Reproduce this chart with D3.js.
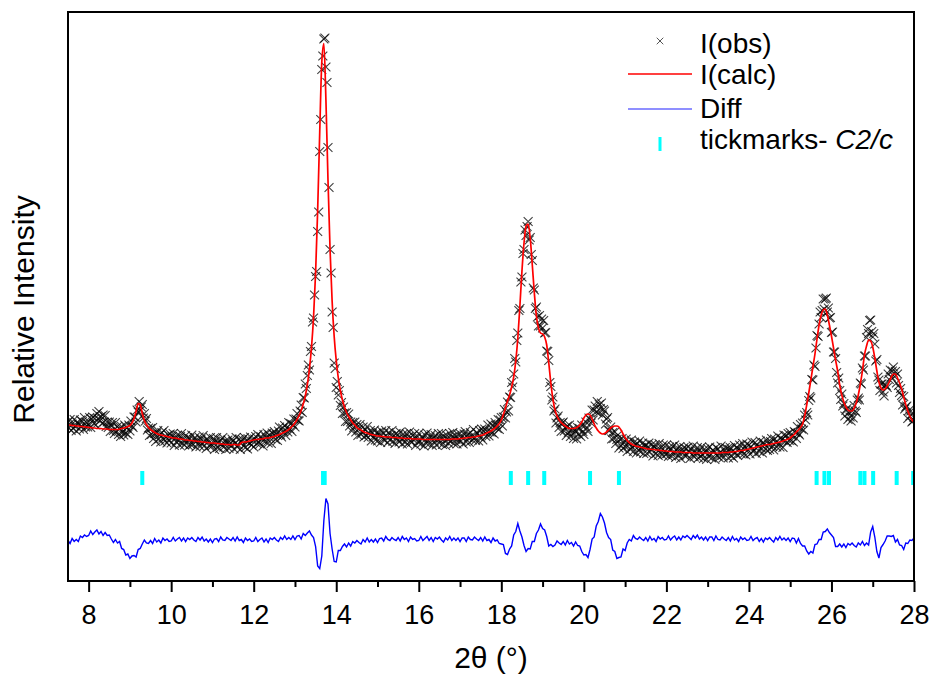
<!DOCTYPE html>
<html>
<head>
<meta charset="utf-8">
<script src="https://cdn.jsdelivr.net/npm/d3@7"></script>
<style>
  body { margin: 0; background: #fff; }
  text { font-family: Arial, "Liberation Sans", sans-serif; fill: #000; }
</style>
</head>
<body>
<svg id="chart" width="932" height="677"></svg>
<script>
"use strict";

// x range of the pattern (2theta, degrees)
const thetaMin = 7.5, thetaMax = 28;
const countsMin = 0, countsMax = 1138;

// observed intensities, one every 0.025 deg from 7.5
const obsStart = 7.5, obsStep = 0.025;
const obsCounts = [
  318,306,323,301,314,305,323,310,300,318,314,304,322,310,319,303,327,308,317,308,
  313,327,307,324,328,315,325,312,335,325,339,321,329,315,332,318,331,309,318,307,
  318,299,311,317,301,295,317,300,309,293,304,289,309,298,292,312,296,306,293,312,
  300,320,310,307,328,328,318,342,338,359,341,348,353,326,335,320,325,302,306,291,
  305,293,307,285,295,279,296,301,284,293,278,297,286,301,280,288,276,292,282,294,
  276,289,295,271,286,278,292,281,272,289,295,275,283,272,291,278,287,270,285,273,
  292,273,283,287,268,280,275,288,269,284,276,291,270,281,265,284,279,270,287,273,
  271,285,263,280,287,267,277,265,282,274,287,268,279,263,277,282,265,275,270,284,
  280,264,275,287,268,272,284,263,279,283,270,287,267,279,264,284,276,288,272,280,
  268,284,289,275,293,278,274,289,283,270,293,279,287,296,276,292,285,275,296,294,
  299,283,293,281,300,308,292,288,306,298,311,291,306,298,317,304,315,299,313,324,
  308,324,335,321,320,340,352,337,367,366,394,385,411,432,422,459,469,518,526,572,
  609,619,699,738,859,923,1023,1050,1084,1086,1028,997,867,787,663,616,538,507,436,425,
  387,399,372,381,351,357,335,348,336,319,337,319,334,310,318,300,317,307,318,298,
  313,291,305,313,293,297,308,288,302,291,309,287,295,301,280,296,288,302,282,296,
  280,297,292,277,300,285,295,281,301,288,277,297,282,291,301,279,291,275,295,284,
  292,278,298,283,274,294,286,278,295,274,289,298,280,277,291,282,295,271,287,278,
  295,280,274,289,285,270,292,276,296,282,274,288,293,271,286,278,291,272,284,295,
  276,286,295,273,289,280,271,292,284,275,295,279,288,297,275,291,283,274,293,281,
  295,280,288,274,294,299,278,292,286,277,297,290,282,303,286,281,297,295,280,301,
  287,304,282,299,304,289,299,312,290,298,314,297,310,294,317,312,305,323,303,322,
  327,310,328,343,326,338,358,340,368,367,397,388,414,445,438,481,496,541,545,598,
  608,655,663,702,691,709,719,682,687,653,641,586,582,545,548,528,510,531,510,524,
  506,521,496,497,460,459,441,397,389,362,368,340,344,316,326,330,307,317,299,316,
  318,300,306,291,310,297,312,289,302,296,285,304,299,284,307,293,305,289,312,299,
  293,311,318,305,299,326,323,316,342,322,342,350,338,359,336,353,345,356,332,343,
  340,314,324,327,301,301,308,284,297,285,298,275,283,292,266,283,271,285,265,277,
  269,284,259,278,273,263,282,268,259,278,273,256,275,262,280,258,267,276,255,270,
  272,255,268,276,258,263,273,250,268,273,255,264,251,275,258,267,252,272,259,253,
  272,255,249,268,262,250,269,256,272,247,264,259,251,269,245,262,256,267,250,265,
  252,268,259,245,264,253,270,248,260,255,267,246,261,249,268,253,245,264,257,243,
  265,249,268,254,246,262,259,243,267,251,264,247,257,270,251,246,261,267,255,265,
  246,263,267,250,260,246,271,256,267,251,264,272,255,261,275,254,269,252,274,262,
  272,254,268,278,259,262,277,255,272,269,259,280,266,256,277,274,264,282,261,274,
  263,279,285,269,262,284,278,268,290,275,268,286,283,267,292,281,291,277,295,281,
  297,281,290,278,299,297,285,309,295,292,313,304,316,302,332,322,337,332,361,369,
  366,403,402,432,429,466,491,489,514,538,527,541,564,544,564,566,538,546,526,527,
  497,498,458,458,445,417,396,406,381,363,374,350,355,330,341,345,323,337,328,320,
  340,326,351,340,337,362,366,362,396,394,426,422,450,450,487,503,495,521,522,499,
  488,495,474,440,443,408,402,381,394,394,378,370,392,391,387,414,403,422,408,420,
  428,409,419,396,414,391,377,385,371,352,369,344,348,350,325,341,330,340,318,320,
  327
];

// calculated profile and difference curve, one every 0.05 deg from 7.5
const calcStart = 7.5, calcStep = 0.05;
const calcCounts = [
  312,312,311,311,310,310,309,309,308,308,
  307,307,306,306,305,305,305,304,304,304,
  303,303,303,303,303,304,305,306,307,309,
  311,316,325,339,355,353,335,321,313,307,
  303,300,297,295,293,292,291,290,289,288,
  287,286,286,285,284,284,283,282,282,281,
  281,280,280,279,279,278,278,277,277,276,
  276,276,275,275,274,274,273,273,273,272,
  273,273,272,272,277,278,278,279,280,281,
  282,283,283,284,284,285,286,286,287,288,
  289,291,292,294,296,298,300,303,307,311,
  316,323,331,341,354,370,393,424,467,528,
  617,742,899,1038,1075,962,802,663,560,489,
  441,406,381,362,348,337,329,322,316,312,
  307,304,302,299,297,296,294,293,292,291,
  290,290,289,289,288,288,288,287,287,287,
  286,286,286,285,285,285,285,284,284,284,
  284,284,283,283,283,283,283,283,283,283,
  283,283,283,283,283,283,284,284,284,284,
  285,285,286,286,287,287,288,288,289,290,
  291,292,294,296,298,300,303,306,310,315,
  322,333,346,360,372,388,408,440,486,550,
  620,676,710,714,686,633,576,530,506,496,
  494,488,472,436,396,364,342,330,322,317,
  313,310,307,305,305,305,306,308,312,318,
  326,332,334,332,324,314,306,300,296,294,
  295,298,302,306,309,310,310,308,302,294,
  287,281,277,274,272,270,269,268,267,266,
  265,264,264,263,263,262,262,261,261,260,
  260,259,259,259,258,258,258,258,257,257,
  257,257,257,256,256,256,256,256,256,256,
  256,256,256,256,256,256,256,257,257,257,
  257,258,258,259,259,260,261,261,262,263,
  264,265,266,267,268,269,270,271,272,273,
  273,274,275,276,277,278,279,281,282,284,
  286,290,293,298,302,307,314,330,352,376,
  402,428,454,484,512,532,542,544,532,512,
  490,466,442,420,392,372,358,348,342,340,
  340,346,356,372,394,420,452,470,482,480,
  468,446,420,398,386,382,384,390,398,408,
  414,414,406,396,384,368,353,340,330,322,
  318
];

const diffCounts = [
  81,75,85,79,83,79,90,87,92,89,
  91,100,93,98,102,94,99,91,97,91,
  92,84,77,83,76,79,65,63,52,54,
  45,50,51,48,63,65,74,82,76,75,
  81,75,85,78,82,76,86,81,84,79,
  80,87,80,84,87,80,86,79,86,83,
  87,82,79,87,82,88,80,84,78,84,
  77,84,85,79,88,82,81,87,84,81,
  87,80,88,81,83,77,86,81,84,79,
  80,87,79,83,86,78,84,77,86,83,
  87,82,79,87,83,90,83,87,83,90,
  83,90,91,84,95,91,96,100,92,87,
  69,30,25,50,121,165,154,95,64,39,
  38,61,61,69,74,68,76,70,79,76,
  81,77,74,83,78,86,78,83,78,84,
  77,85,86,80,89,83,81,87,83,81,
  87,80,89,83,86,79,88,83,85,80,
  81,89,81,85,89,81,87,79,87,84,
  88,82,78,86,82,89,81,86,81,86,
  79,86,86,79,88,83,82,88,84,81,
  87,80,88,81,83,77,86,80,82,75,
  74,73,55,53,64,70,92,99,115,100,
  88,71,59,65,64,79,79,95,102,114,
  105,102,89,70,73,69,72,80,76,73,
  79,72,81,74,77,70,78,71,70,59,
  52,53,47,63,84,88,110,119,135,128,
  116,97,87,83,62,59,45,47,48,64,
  61,76,83,80,91,85,83,88,84,81,
  87,80,89,82,85,79,89,84,87,82,
  83,90,82,87,90,82,88,82,90,87,
  91,87,83,91,86,92,84,88,82,88,
  81,88,88,81,90,83,82,88,84,81,
  87,80,89,82,85,79,88,83,86,81,
  82,89,81,85,87,79,85,78,86,83,
  87,82,78,87,82,89,82,86,81,86,
  79,86,85,76,85,75,70,70,60,54,
  59,56,73,74,83,83,98,99,104,97,
  92,87,69,69,74,68,74,67,75,72,
  76,71,68,76,72,79,71,76,72,98,
  109,88,59,46,67,73,80,90,90,89,
  91,78,83,72,71,63,76,75,82,81,
  86
];

// Bragg reflection positions for C2/c
const reflections = [9.30, 13.68, 13.72, 18.23, 18.65, 19.04, 20.15, 20.85,
  25.64, 25.83, 25.94, 26.70, 26.80, 27.01, 27.58, 27.98];
// vertical span of the reflection ticks, in counts
const reflTop = 220, reflBottom = 192;

const xMajorTicks = [8, 10, 12, 14, 16, 18, 20, 22, 24, 26, 28];
const xMinorTicks = [9, 11, 13, 15, 17, 19, 21, 23, 25, 27];

const legendLabels = ["I(obs)", "I(calc)", "Diff", "tickmarks- "];
const spaceGroup = "C2/c";

// ---- layout ----
const width = 932, height = 677;
const margin = { left: 68, right: 18, top: 12, bottom: 96 };
const plotW = width - margin.left - margin.right;
const plotH = height - margin.top - margin.bottom;

const svg = d3.select("#chart");

const x = d3.scaleLinear().domain([thetaMin, thetaMax]).range([margin.left, margin.left + plotW]);
const y = d3.scaleLinear().domain([countsMin, countsMax]).range([margin.top + plotH, margin.top]);

const obsData = obsCounts.map((c, i) => ({ t: obsStart + i * obsStep, c: c }));
const calcData = calcCounts.map((c, i) => ({ t: calcStart + i * calcStep, c: c }));
const diffData = diffCounts.map((c, i) => ({ t: calcStart + i * calcStep, c: c }));

svg.append("defs").append("clipPath").attr("id", "plot-clip")
  .append("rect")
  .attr("x", margin.left).attr("y", margin.top)
  .attr("width", plotW).attr("height", plotH);

const plot = svg.append("g").attr("clip-path", "url(#plot-clip)");

// difference curve
plot.append("path")
  .datum(diffData)
  .attr("fill", "none")
  .attr("stroke", "#0000ff")
  .attr("stroke-width", 1.4)
  .attr("d", d3.line().x(d => x(d.t)).y(d => y(d.c)));

// reflection ticks
plot.selectAll("rect.refl")
  .data(reflections)
  .enter().append("rect")
  .attr("class", "refl")
  .attr("x", d => x(d) - 2)
  .attr("y", y(reflTop))
  .attr("width", 4)
  .attr("height", y(reflBottom) - y(reflTop))
  .attr("fill", "#00ffff");

// observed points as x markers
const timesSymbol = d3.symbolTimes || d3.symbolCross;
const marker = d3.symbol().type(timesSymbol).size(54);
plot.selectAll("path.obs")
  .data(obsData)
  .enter().append("path")
  .attr("class", "obs")
  .attr("transform", d => "translate(" + x(d.t) + "," + y(d.c) + ")")
  .attr("d", marker)
  .attr("fill", "none")
  .attr("stroke", "#000")
  .attr("stroke-opacity", 0.75)
  .attr("stroke-width", 1.1);

// calculated profile
plot.append("path")
  .datum(calcData)
  .attr("fill", "none")
  .attr("stroke", "#ff0000")
  .attr("stroke-width", 1.7)
  .attr("d", d3.line().curve(d3.curveMonotoneX).x(d => x(d.t)).y(d => y(d.c)));

// frame
svg.append("rect")
  .attr("x", margin.left).attr("y", margin.top)
  .attr("width", plotW).attr("height", plotH)
  .attr("fill", "none")
  .attr("stroke", "#000")
  .attr("stroke-width", 2);

// x axis: major ticks with labels, minor ticks without
const axisY = margin.top + plotH;
const majorAxis = svg.append("g")
  .attr("transform", "translate(0," + axisY + ")")
  .call(d3.axisBottom(x).tickValues(xMajorTicks).tickSize(11).tickSizeOuter(0).tickPadding(13).tickFormat(d3.format("d")));
majorAxis.select(".domain").remove();
majorAxis.selectAll("line").attr("stroke", "#000").attr("stroke-width", 2);
majorAxis.selectAll("text")
  .attr("font-size", "27px")
  .attr("font-family", "Arial, 'Liberation Sans', sans-serif")
  .attr("fill", "#000");

const minorAxis = svg.append("g")
  .attr("transform", "translate(0," + axisY + ")")
  .call(d3.axisBottom(x).tickValues(xMinorTicks).tickSize(6).tickSizeOuter(0).tickFormat(""));
minorAxis.select(".domain").remove();
minorAxis.selectAll("line").attr("stroke", "#000").attr("stroke-width", 2);

// axis titles
svg.append("text")
  .attr("x", x((thetaMin + thetaMax) / 2))
  .attr("y", 668)
  .attr("text-anchor", "middle")
  .attr("font-size", "30px")
  .text("2\u03b8 (\u00b0)");

svg.append("text")
  .attr("transform", "translate(34," + (margin.top + plotH / 2 + 13) + ") rotate(-90)")
  .attr("text-anchor", "middle")
  .attr("font-size", "30px")
  .text("Relative Intensity");

// legend
const legend = svg.append("g");
const legendTextX = 700, legendSymX = 660;
const legendBaselines = [53, 84, 118, 149];

legend.append("path")
  .attr("transform", "translate(" + legendSymX + "," + (legendBaselines[0] - 12) + ")")
  .attr("d", d3.symbol().type(timesSymbol).size(30)())
  .attr("fill", "none")
  .attr("stroke", "#555")
  .attr("stroke-width", 1);

legend.append("line")
  .attr("x1", 628).attr("x2", 692)
  .attr("y1", legendBaselines[1] - 10).attr("y2", legendBaselines[1] - 10)
  .attr("stroke", "#ff0000").attr("stroke-width", 1.7);

legend.append("line")
  .attr("x1", 628).attr("x2", 692)
  .attr("y1", legendBaselines[2] - 9).attr("y2", legendBaselines[2] - 9)
  .attr("stroke", "#6a6aff").attr("stroke-width", 1.7);

legend.append("rect")
  .attr("x", legendSymX - 1.5).attr("y", legendBaselines[3] - 12)
  .attr("width", 3).attr("height", 14)
  .attr("fill", "#00ffff");

legendLabels.forEach((label, i) => {
  const t = legend.append("text")
    .attr("x", legendTextX)
    .attr("y", legendBaselines[i])
    .attr("font-size", "28px")
    .text(label);
  if (i === legendLabels.length - 1) {
    t.append("tspan").attr("font-style", "italic").text(spaceGroup);
  }
});
</script>
</body>
</html>
